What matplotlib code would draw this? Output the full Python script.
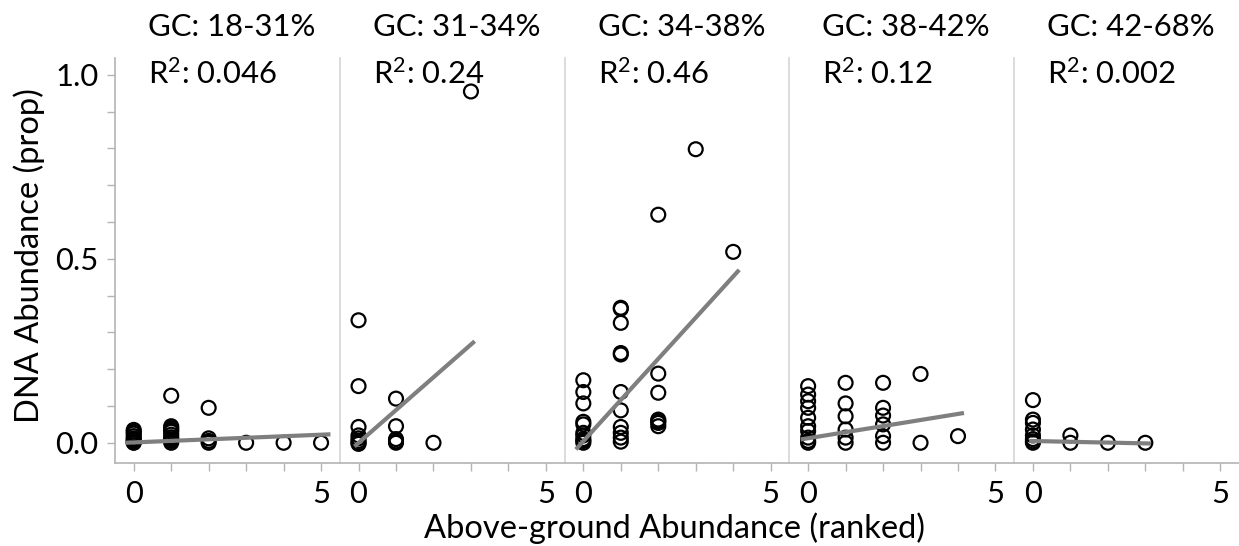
import matplotlib.pyplot as plt
from matplotlib.ticker import MultipleLocator, FixedLocator

plt.rcParams["font.family"] = ["Lato", "DejaVu Sans"]
plt.rcParams["mathtext.fontset"] = "custom"
plt.rcParams["mathtext.rm"] = "Lato"
plt.rcParams["mathtext.it"] = "Lato"
plt.rcParams["mathtext.default"] = "regular"

GC_LABELS = ["GC: 18-31%", "GC: 31-34%", "GC: 34-38%", "GC: 38-42%", "GC: 42-68%"]
R2_VALUES = ["0.046", "0.24", "0.46", "0.12", "0.002"]

# above-ground rank (x) and DNA proportion (y) per GC bin
X1 = [0, 0, 0, 0, 0, 0, 0, 0, 0, 1, 1, 1, 1, 1, 1, 1, 1, 1, 1, 2, 2, 2, 2, 3, 4, 5]
Y1 = [0.035, 0.03, 0.025, 0.018, 0.012, 0.008, 0.004, 0.001, 0.0,
      0.128, 0.045, 0.04, 0.035, 0.03, 0.022, 0.015, 0.01, 0.005, 0.0,
      0.095, 0.012, 0.005, 0.0, 0.0, 0.0, 0.0]

X2 = [0, 0, 0, 0, 0, 0, 0, 0, 1, 1, 1, 1, 1, 2, 3]
Y2 = [0.333, 0.154, 0.043, 0.02, 0.012, 0.005, 0.0, -0.003, 0.12, 0.045, 0.01, 0.004, 0.0, 0.0, 0.955]

X3 = [0, 0, 0, 0, 0, 0, 0, 0, 0, 0,
      1, 1, 1, 1, 1, 1, 1, 1, 1, 1, 1,
      2, 2, 2, 2, 2, 2, 2, 3, 4]
Y3 = [0.17, 0.138, 0.107, 0.057, 0.05, 0.027, 0.02, 0.01, 0.005, 0.0,
      0.367, 0.364, 0.326, 0.244, 0.24, 0.138, 0.088, 0.043, 0.027, 0.014, 0.003,
      0.62, 0.188, 0.136, 0.063, 0.059, 0.054, 0.045, 0.798, 0.519]

X4 = [0, 0, 0, 0, 0, 0, 0, 0, 0, 0,
      1, 1, 1, 1, 1, 1,
      2, 2, 2, 2, 2, 2, 3, 3, 4]
Y4 = [0.154, 0.131, 0.113, 0.095, 0.068, 0.045, 0.032, 0.014, 0.005, 0.0,
      0.163, 0.107, 0.072, 0.036, 0.014, 0.0,
      0.163, 0.095, 0.074, 0.05, 0.018, 0.0, 0.187, 0.0, 0.018]

X5 = [0, 0, 0, 0, 0, 0, 0, 0, 1, 1, 2, 3]
Y5 = [0.116, 0.063, 0.054, 0.036, 0.02, 0.01, 0.004, 0.0, 0.02, 0.0, 0.0, 0.0]

# fitted line ends per panel
FIT_X = [(-0.22, 5.25), (-0.11, 3.1), (-0.2, 4.16), (-0.2, 4.16), (-0.1, 3.15)]
FIT_Y = [(0.0, 0.023), (-0.01, 0.276), (-0.018, 0.47), (0.009, 0.081), (0.005, -0.002)]

PANELS = [(X1, Y1), (X2, Y2), (X3, Y3), (X4, Y4), (X5, Y5)]

W, H = 1239, 546
fig = plt.figure(figsize=(W / 100, H / 100), dpi=100)

left_px, panel_w, top_px, bot_px = 115, 224.8, 58, 463
FS = 22.3
LABEL_FS = 23.5
spine_col = "#b4b4b4"
div_col = "#d6d6d6"

for i, (xs, ys) in enumerate(PANELS):
    ax = fig.add_axes([(left_px + i * panel_w) / W, 1 - bot_px / H, panel_w / W, (bot_px - top_px) / H])
    ax.scatter(xs, ys, s=100, facecolors="none", edgecolors="black", linewidths=1.6, zorder=3)
    ax.plot(FIT_X[i], FIT_Y[i], color="#7f7f7f", lw=3.0, solid_capstyle="butt", zorder=4)
    ax.set_xlim(-0.5, 5.5)
    ax.set_ylim(-0.055, 1.046)
    for s in ("top", "right"):
        ax.spines[s].set_visible(False)
    ax.spines["bottom"].set_color(spine_col)
    ax.spines["bottom"].set_linewidth(1.2)
    ax.spines["left"].set_color(spine_col if i == 0 else div_col)
    ax.spines["left"].set_linewidth(1.2)

    ax.xaxis.set_major_locator(FixedLocator([0, 5]))
    ax.xaxis.set_minor_locator(MultipleLocator(1))
    ax.tick_params(axis="x", which="both", colors=spine_col, length=6, width=1, labelsize=FS,
                   labelcolor="black", pad=6)
    if i == 0:
        ax.yaxis.set_major_locator(FixedLocator([0, 0.5, 1.0]))
        ax.yaxis.set_minor_locator(MultipleLocator(0.1))
        ax.set_yticklabels(["0.0", "0.5", "1.0"])
        ax.tick_params(axis="y", which="both", colors=spine_col, length=6, width=1,
                       labelsize=FS, labelcolor="black", pad=6)
    else:
        ax.tick_params(axis="y", which="both", left=False, labelleft=False)

    ax.text(0.147, 1.077, GC_LABELS[i], transform=ax.transAxes, ha="left", va="center",
            fontsize=FS, clip_on=False)
    ax.text(0.147, 0.962, "R$^{2}$: " + R2_VALUES[i], transform=ax.transAxes, ha="left", va="center",
            fontsize=FS, clip_on=False)

fig.text(674 / W, 1 - 528 / H, "Above-ground Abundance (ranked)", ha="center", va="center",
         fontsize=LABEL_FS)
fig.text(29 / W, 1 - 256 / H, "DNA Abundance (prop)", ha="center", va="center", rotation=90,
         fontsize=LABEL_FS)

fig.savefig("out.png", dpi=100)
